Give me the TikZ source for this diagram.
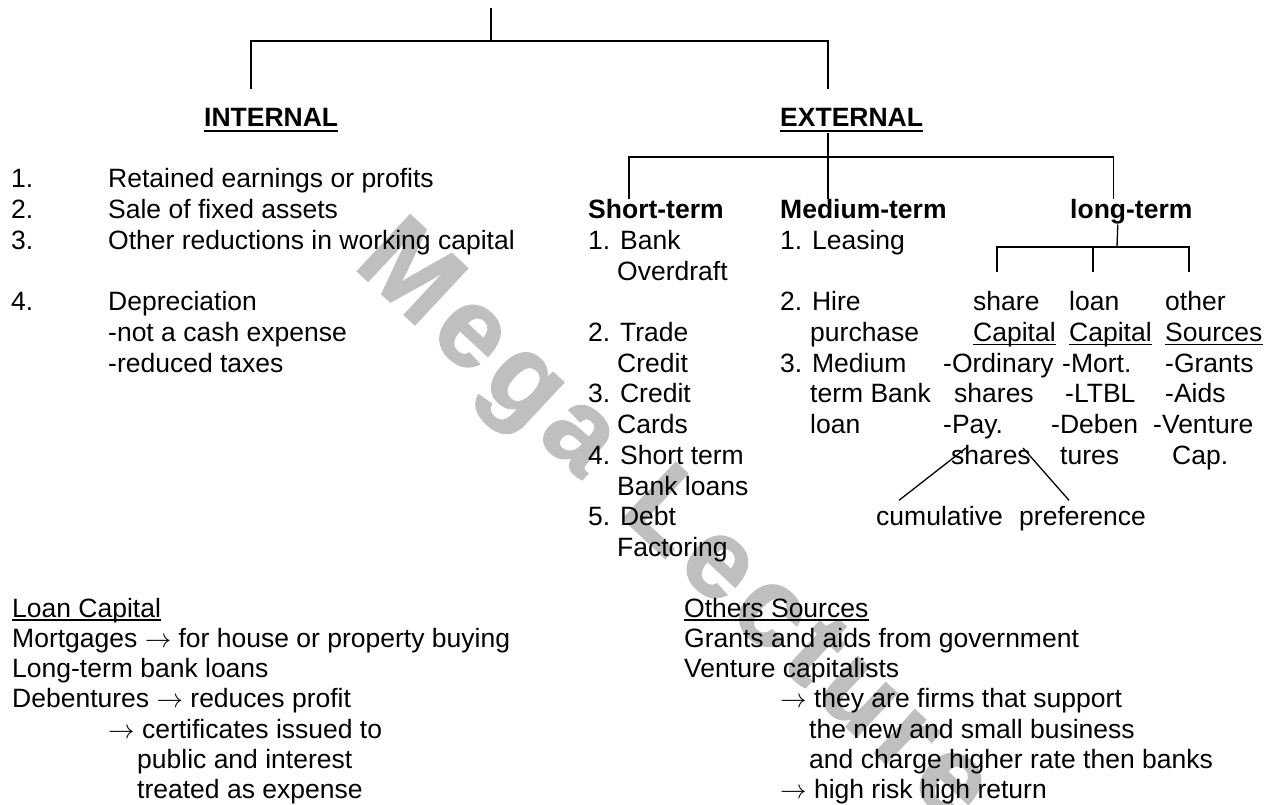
\documentclass[tikz,border=0pt]{standalone}
\usepackage{fix-cm}
\usepackage{fontspec}
\setmainfont{Liberation Sans}
\usepackage{tikz}
\usetikzlibrary{positioning}

\newcommand{\toarr}{$\rightarrow$}

\tikzset{
    txt/.style={anchor=base west, inner sep=0pt, font=\fontsize{26.5}{30}\selectfont},
    head/.style={txt, font=\fontsize{26.5}{30}\selectfont\bfseries},
    tree/.style={line width=1.3pt},
    uline/.style={line width=1.4pt},
    wmark/.style={anchor=base west, inner sep=0pt, text=black!25,
        font=\fontsize{112}{112}\selectfont\bfseries\addfontfeatures{LetterSpace=8, FakeBold=1.5}}
}

\begin{document}
\begin{tikzpicture}[x=1pt, y=-1pt]
    \useasboundingbox (0,0) rectangle (1277,805);

    % Watermark
    \node[wmark, rotate=-43] (wm) at (352,266) {Mega\hspace{50pt}Lecture};

    % Define nodes
    \node[head] (intl) at (204,127) {INTERNAL};
    \node[head] (extl) at (780,127) {EXTERNAL};

    \node[txt] (i1n) at (11,188) {1.};
    \node[txt] (i1) at (108,188) {Retained earnings or profits};
    \node[txt] (i2n) at (11,218.7) {2.};
    \node[txt] (i2) at (108,218.7) {Sale of fixed assets};
    \node[txt] (i3n) at (11,249.4) {3.};
    \node[txt] (i3) at (108,249.4) {Other reductions in working capital};
    \node[txt] (i4n) at (11,310.8) {4.};
    \node[txt] (i4) at (108,310.8) {Depreciation};
    \node[txt] (i4a) at (108,341.5) {-not a cash expense};
    \node[txt] (i4b) at (108,372.2) {-reduced taxes};

    \node[head] (st) at (588,218.7) {Short-term};
    \node[txt] (st1) at (588,249.4) {1. Bank};
    \node[txt] (st1b) at (617,280.1) {Overdraft};
    \node[txt] (st2) at (588,341.5) {2. Trade};
    \node[txt] (st2b) at (617,372.2) {Credit};
    \node[txt] (st3) at (588,402.9) {3. Credit};
    \node[txt] (st3b) at (617,433.6) {Cards};
    \node[txt] (st4) at (588,464.3) {4. Short term};
    \node[txt] (st4b) at (617,495) {Bank loans};
    \node[txt] (st5) at (588,525.7) {5. Debt};
    \node[txt] (st5b) at (617,556.4) {Factoring};

    \node[head] (md) at (780,218.7) {Medium-term};
    \node[txt] (md1) at (780,249.4) {1. Leasing};
    \node[txt] (md2) at (780,310.8) {2. Hire};
    \node[txt] (md2b) at (810,341.5) {purchase};
    \node[txt] (md3) at (780,372.2) {3. Medium};
    \node[txt] (md3b) at (810,402.9) {term Bank};
    \node[txt] (md3c) at (810,433.6) {loan};

    \node[head] (lt) at (1070,218.7) {long-term};

    \node[txt] (sh) at (973,310.8) {share};
    \node[txt] (shcap) at (973,341.5) {Capital};
    \node[txt] (sh1) at (943,372.2) {-Ordinary};
    \node[txt] (sh1b) at (954,402.9) {shares};
    \node[txt] (sh2) at (943,433.6) {-Pay.};
    \node[txt] (sh2b) at (951,464.3) {shares};
    \node[txt] (cum) at (876,525.7) {cumulative};
    \node[txt] (pref) at (1019,525.7) {preference};

    \node[txt] (ln) at (1069,310.8) {loan};
    \node[txt] (lncap) at (1069,341.5) {Capital};
    \node[txt] (ln1) at (1062,372.2) {-Mort.};
    \node[txt] (ln2) at (1065,402.9) {-LTBL};
    \node[txt] (ln3) at (1051,433.6) {-Deben};
    \node[txt] (ln3b) at (1060,464.3) {tures};

    \node[txt] (ot) at (1165,310.8) {other};
    \node[txt] (otsrc) at (1165,341.5) {Sources};
    \node[txt] (ot1) at (1165,372.2) {-Grants};
    \node[txt] (ot2) at (1165,402.9) {-Aids};
    \node[txt] (ot3) at (1153,433.6) {-Venture};
    \node[txt] (ot3b) at (1172,464.3) {Cap.};

    \node[txt] (lc) at (12,617) {Loan Capital};
    \node[txt] (lc1) at (12,647.3) {Mortgages \toarr{} for house or property buying};
    \node[txt] (lc2) at (12,677.6) {Long-term bank loans};
    \node[txt] (lc3) at (12,707.9) {Debentures \toarr{} reduces profit};
    \node[txt] (lc3a) at (108,738.2) {\toarr{} certificates issued to};
    \node[txt] (lc3b) at (137,768.5) {public and interest};
    \node[txt] (lc3c) at (137,798.8) {treated as expense};

    \node[txt] (os) at (684,617) {Others Sources};
    \node[txt] (os1) at (684,647.3) {Grants and aids from government};
    \node[txt] (os2) at (684,677.6) {Venture capitalists};
    \node[txt] (os2a) at (780,707.9) {\toarr{} they are firms that support};
    \node[txt] (os2b) at (809,738.2) {the new and small business};
    \node[txt] (os2c) at (809,768.5) {and charge higher rate then banks};
    \node[txt] (os3) at (780,798.8) {\toarr{} high risk high return};

    % Underlines
    \draw[uline, line width=2.4pt] ([yshift=-4pt]intl.base west) -- ([yshift=-4pt]intl.base east);
    \draw[uline, line width=2.4pt] ([yshift=-4pt]extl.base west) -- ([yshift=-4pt]extl.base east);
    \foreach \n in {shcap, lncap, otsrc, lc, os}
        \draw[uline] ([yshift=-3pt]\n.base west) -- ([yshift=-3pt]\n.base east);

    % Branch points
    \coordinate (top) at (491,8);
    \coordinate (split) at (491,41);
    \coordinate (intdrop) at (251,89);
    \coordinate (extdrop) at (828,89);
    \coordinate (extbot) at (828,133);
    \coordinate (extj) at (828,157);
    \coordinate (ltj) at (1117,247);
    \coordinate (shdrop) at (997,272);
    \coordinate (lndrop) at (1093,272);
    \coordinate (otdrop) at (1189,272);
    \coordinate (forkl) at (966,448);
    \coordinate (forkr) at (1023,448);

    % Draw lines
    \draw[tree] (top) -- (split);
    \draw[tree] (intdrop) |- (split) -| (extdrop);
    \draw[tree] (extbot) -- (extbot |- md.north);
    \draw[tree] ([xshift=-27pt]st.north) |- (extj) -| ([xshift=-17.5pt]lt.north);
    \draw[tree] ([xshift=-13.5pt]lt.south) -- (ltj);
    \draw[tree] (shdrop) |- (ltj) -| (otdrop);
    \draw[tree] (lndrop) -- (lndrop |- ltj);
    \draw[tree] (forkl) -- ([xshift=23pt,yshift=6pt]cum.north west);
    \draw[tree] (forkr) -- ([xshift=50pt,yshift=6pt]pref.north west);
\end{tikzpicture}
\end{document}
